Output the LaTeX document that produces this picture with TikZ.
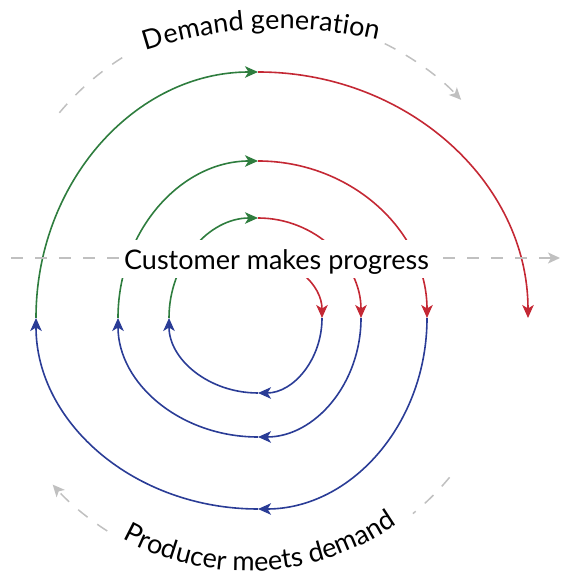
\documentclass[tikz,border=0pt]{standalone}
\usepackage{fontspec}
\setmainfont{Lato}
\usetikzlibrary{arrows.meta,decorations.text}
\definecolor{spgreen}{RGB}{46,125,62}
\definecolor{spred}{RGB}{196,40,52}
\definecolor{spblue}{RGB}{42,60,150}
\definecolor{spgray}{RGB}{192,192,192}
\newcommand\lblfont{\fontsize{27}{32}\selectfont}
\begin{document}
\begin{tikzpicture}[x=1pt,y=1pt,
  tip/.style={-{Stealth[length=13pt,width=11.5pt,inset=3.5pt]}},
  gline/.style={draw=spgreen,line width=1.6pt,tip},
  rline/.style={draw=spred,line width=1.6pt,tip},
  bline/.style={draw=spblue,line width=1.6pt,tip},
  guide/.style={draw=spgray,line width=1.5pt,dash pattern=on 12pt off 12pt},
  guidetip/.style={guide,-{Stealth[length=12pt,width=11pt,inset=3pt]}},
]
\useasboundingbox (0,0) rectangle (561,575);
% spiral junctions
\coordinate (s0) at (258,317);
\coordinate (r1) at (322,257);
\coordinate (b1) at (258,182);
\coordinate (l1) at (169,257);
\coordinate (t1) at (258,357);
\coordinate (r2) at (361,257);
\coordinate (b2) at (258,138);
\coordinate (l2) at (118,257);
\coordinate (t2) at (258,414);
\coordinate (r3) at (427,257);
\coordinate (b3) at (258,66);
\coordinate (l3) at (36,257);
\coordinate (t3) at (258,503);
\coordinate (r4) at (528,257);
% spiral
\draw[rline] (s0) arc[start angle=90,end angle=0,x radius=64,y radius=60];
\draw[bline] (r1) arc[start angle=0,end angle=-90,x radius=64,y radius=75];
\draw[bline] (b1) arc[start angle=-90,end angle=-180,x radius=89,y radius=75];
\draw[gline] (l1) arc[start angle=180,end angle=90,x radius=89,y radius=100];
\draw[rline] (t1) arc[start angle=90,end angle=0,x radius=103,y radius=100];
\draw[bline] (r2) arc[start angle=0,end angle=-90,x radius=103,y radius=119];
\draw[bline] (b2) arc[start angle=-90,end angle=-180,x radius=140,y radius=119];
\draw[gline] (l2) arc[start angle=180,end angle=90,x radius=140,y radius=157];
\draw[rline] (t2) arc[start angle=90,end angle=0,x radius=169,y radius=157];
\draw[bline] (r3) arc[start angle=0,end angle=-90,x radius=169,y radius=191];
\draw[bline] (b3) arc[start angle=-90,end angle=-180,x radius=222,y radius=191];
\draw[gline] (l3) arc[start angle=180,end angle=90,x radius=222,y radius=246];
\draw[rline] (t3) arc[start angle=90,end angle=0,x radius=270,y radius=246];
% horizontal guide
\coordinate (hl) at (11,317);
\coordinate (hr) at (560,317);
\draw[guidetip] (hl) -- (hr);
\node[name=prog,anchor=base,fill=white,inner xsep=5pt,inner ysep=0pt,
  text height=30pt,text depth=8pt,font=\lblfont] at (276.5,305) {Customer makes progress};
% top guide
\coordinate (tc) at (266,290);
\path (tc) ++(140.2:269) coordinate (ta);
\draw[guide] (ta) arc[start angle=140.2,end angle=120.3,radius=269];
\path (tc) ++(63.8:269) coordinate (tb);
\draw[guidetip] (tb) arc[start angle=63.8,end angle=43.5,radius=269];
\coordinate (ttc) at (280,113);
\path (ttc) ++(115:433) coordinate (tt0);
\path[decorate,decoration={text along path,text={|\lblfont|Demand generation},text align=center}]
  (tt0) arc[start angle=115,end angle=70,radius=433];
% bottom guide
\coordinate (bc) at (248,265);
\path (bc) ++(-39.7:262) coordinate (ba);
\draw[guide] (ba) arc[start angle=-39.7,end angle=-51,radius=262];
\path (bc) ++(-122.5:262) coordinate (bb);
\draw[guidetip] (bb) arc[start angle=-122.5,end angle=-138.2,radius=262];
\path (bc) ++(231:261) coordinate (bt0);
\path[decorate,decoration={text along path,text={|\lblfont|Producer meets demand},text align=center}]
  (bt0) arc[start angle=231,end angle=315,radius=261];
\end{tikzpicture}
\end{document}
